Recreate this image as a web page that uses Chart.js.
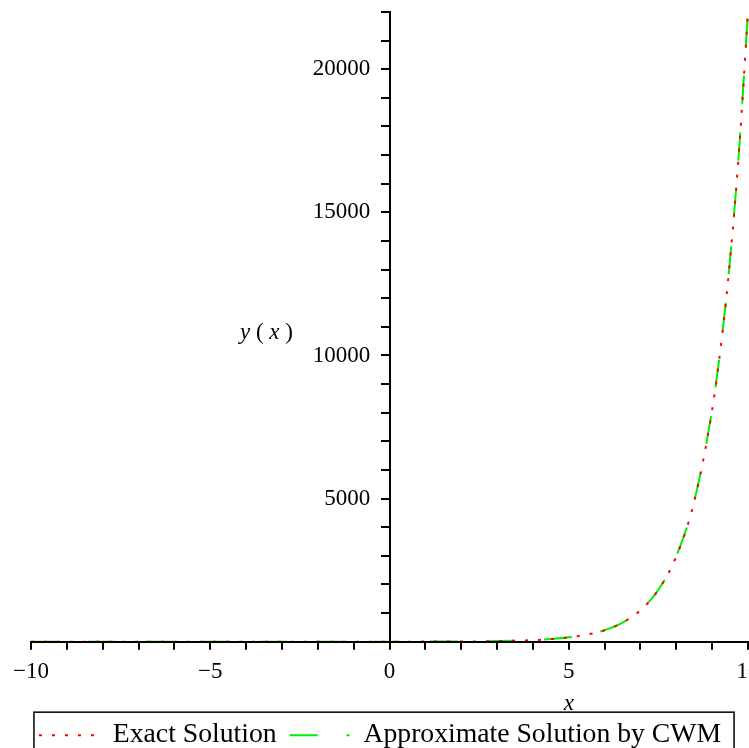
<!DOCTYPE html>
<html>
<head>
<meta charset="utf-8">
<script src="https://cdn.jsdelivr.net/npm/chart.js@4"></script>
<style>
html, body { margin: 0; padding: 0; background: #fff; overflow: hidden; }
#wrap { width: 749px; height: 748px; overflow: hidden; }
</style>
</head>
<body>
<div id="wrap"><canvas id="plot" width="760" height="759"></canvas></div>
<script>
// values
const xValues = [-10, -8, -6, -4, -2, 0, 1, 2, 3, 3.5, 4, 4.5, 5, 5.5, 6, 6.5, 7, 7.5, 8, 8.5, 9, 9.25, 9.5, 9.75, 10];
const exactValues = [0, 0, 0, 0, 0, 1, 3, 7, 20, 33, 55, 90, 150, 245, 400, 665, 1100, 1810, 2980, 4900, 8100, 10400, 13350, 17150, 22000];
const approxValues = [0, 0, 0, 0, 0, 1, 3, 7, 21, 34, 56, 92, 152, 248, 405, 670, 1105, 1815, 2990, 4910, 8110, 10410, 13360, 17160, 22010];
const xTickLabels = [-10, -5, 0, 5, 10];
const yTickLabels = [5000, 10000, 15000, 20000];

const serif = '"Liberation Serif", "Times New Roman", serif';

function toPoints(ys) {
    return xValues.map((x, i) => ({ x: x, y: ys[i] }));
}

const extras = {
    id: 'extras',
    afterDraw(chart) {
        const ctx = chart.ctx;
        const xs = chart.scales.x;
        const ys = chart.scales.y;
        ctx.save();
        ctx.fillStyle = '#000';
        ctx.textBaseline = 'middle';

        // x axis title
        ctx.font = 'italic 23px ' + serif;
        ctx.textAlign = 'center';
        ctx.fillText('x', xs.getPixelForValue(5), xs.bottom - 4);

        // y axis title: y ( x )
        const yy = ys.getPixelForValue(10800);
        let px = 240;
        ctx.textAlign = 'left';
        const parts = [['y', true], [' ( ', false], ['x', true], [' )', false]];
        parts.forEach(p => {
            ctx.font = (p[1] ? 'italic ' : '') + '23px ' + serif;
            ctx.fillText(p[0], px, yy);
            px += ctx.measureText(p[0]).width;
        });

        // legend frame
        const boxes = chart.legend.legendHitBoxes;
        if (boxes.length) {
            const left = Math.min(...boxes.map(b => b.left));
            const right = Math.max(...boxes.map(b => b.left + b.width));
            const mid = boxes[0].top + boxes[0].height / 2;
            ctx.strokeStyle = '#000';
            ctx.lineWidth = 1.5;
            ctx.strokeRect(left - 5, mid - 23, right - left + 18, 60);
        }
        ctx.restore();
    }
};

new Chart(document.getElementById('plot'), {
    type: 'line',
    data: {
        datasets: [
            {
                label: 'Exact Solution',
                data: toPoints(exactValues),
                borderColor: '#ff0000',
                backgroundColor: '#ff0000',
                borderWidth: 2,
                borderDash: [3, 10],
                pointRadius: 0,
                pointStyle: 'line',
                cubicInterpolationMode: 'monotone',
                clip: { left: 2, top: 5, right: 5, bottom: 0 },
                fill: false
            },
            {
                label: 'Approximate Solution by CWM',
                data: toPoints(approxValues),
                borderColor: '#00ee00',
                backgroundColor: '#00ee00',
                borderWidth: 2,
                borderDash: [28, 29],
                pointRadius: 0,
                pointStyle: 'line',
                cubicInterpolationMode: 'monotone',
                clip: { left: 2, top: 5, right: 5, bottom: 0 },
                fill: false
            }
        ]
    },
    options: {
        responsive: false,
        animation: false,
        layout: { padding: { left: 0, top: 12, right: 0, bottom: 0 } },
        scales: {
            x: {
                type: 'linear',
                position: 'bottom',
                min: -10,
                max: 10,
                afterFit: s => {
                    s.height += 15;
                    s.paddingLeft = 31;
                    s.paddingRight = 12;
                },
                border: { display: true, color: '#000', width: 2, z: 1 },
                grid: { drawOnChartArea: false, drawTicks: true, tickLength: 8, color: '#000', lineWidth: 2 },
                ticks: {
                    stepSize: 1,
                    autoSkip: false,
                    maxRotation: 0,
                    color: '#000',
                    font: { family: serif, size: 23 },
                    padding: 8,
                    callback: v => xTickLabels.includes(v) ? (v < 0 ? '\u2212' + Math.abs(v) : String(v)) : ''
                }
            },
            y: {
                type: 'linear',
                position: { x: 0 },
                min: 0,
                max: 22000,
                afterFit: s => {
                    s.paddingTop = 0;
                    s.paddingBottom = 0;
                },
                border: { display: true, color: '#000', width: 2, z: 1 },
                grid: { drawOnChartArea: false, drawTicks: true, tickLength: 8, color: '#000', lineWidth: 2 },
                ticks: {
                    stepSize: 1000,
                    autoSkip: false,
                    color: '#000',
                    font: { family: serif, size: 23 },
                    // label sits right-aligned on the axis line, so pad it with spaces
                    callback: v => yTickLabels.includes(v) ? String(v) + '\u2002 \u200A' : ''
                }
            }
        },
        plugins: {
            legend: {
                position: 'bottom',
                labels: {
                    usePointStyle: true,
                    pointStyleWidth: 60,
                    boxHeight: 2,
                    padding: 13,
                    color: '#000',
                    font: { family: serif, size: 27.7 },
                    generateLabels: chart => {
                        const items = Chart.defaults.plugins.legend.labels.generateLabels(chart);
                        items.forEach(it => {
                            const ds = chart.data.datasets[it.datasetIndex];
                            it.lineDash = ds.borderDash;
                            it.lineWidth = 2;
                            it.strokeStyle = ds.borderColor;
                        });
                        return items;
                    }
                }
            },
            tooltip: { enabled: false }
        }
    },
    plugins: [extras]
});
</script>
</body>
</html>
